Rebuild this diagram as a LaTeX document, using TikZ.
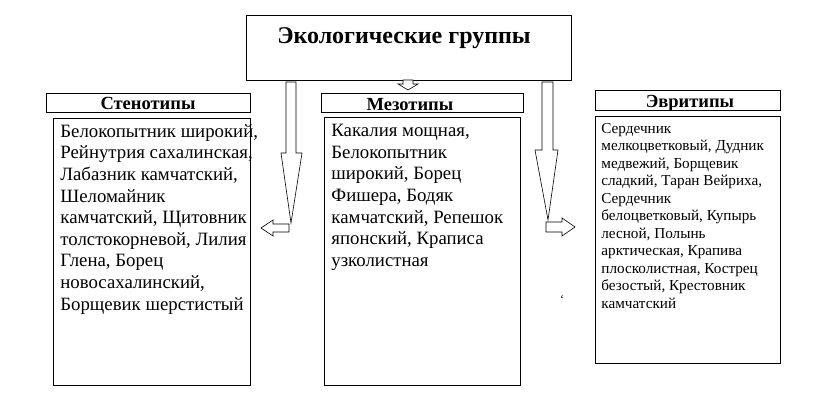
\documentclass[tikz,border=0pt]{standalone}
\usepackage{fontspec}
\setmainfont{Liberation Serif}
\begin{document}
\begin{tikzpicture}[x=1pt,y=-1pt,line width=0.8pt,
  bx/.style={draw,fill=white},
  hd/.style={font=\bfseries\fontsize{18.5}{19}\selectfont,inner sep=0pt},
  tx/.style={anchor=north west,align=left,inner sep=0pt},
  ar/.style={draw,fill=white,line width=0.6pt}]
\useasboundingbox (0,0) rectangle (832,420);
\draw[bx] (246,15) rectangle (571,80);
\node[font=\bfseries\fontsize{24}{26}\selectfont] (title) at (404,38) {Экологические группы};
% headers
\draw[bx] (46,93) rectangle (250,112);
\node[hd] (h1) at (148,103) {Стенотипы};
\draw[bx] (321,93) rectangle (523,112);
\node[hd] (h2) at (410,105) {Мезотипы};
\draw[bx] (595,90) rectangle (780,110);
\node[hd] (h3) at (690,103) {Эвритипы};
% bodies
\draw[bx] (53,118) rectangle (250,385);
\draw[bx] (324,117) rectangle (520,385);
\draw[bx] (595,116) rectangle (780,363);
\node[tx,font=\fontsize{18.8}{21.6}\selectfont] (t1) at (60,124) {Белокопытник широкий,\\Рейнутрия сахалинская,\\Лабазник камчатский,\\Шеломайник\\камчатский, Щитовник\\толстокорневой, Лилия\\Глена, Борец\\новосахалинский,\\Борщевик шерстистый};
\node[tx,font=\fontsize{18.8}{21.6}\selectfont] (t2) at (331,124) {Какалия мощная,\\Белокопытник\\широкий, Борец\\Фишера, Бодяк\\камчатский, Репешок\\японский, Краписа\\узколистная};
\node[tx,font=\fontsize{15.2}{17.5}\selectfont] (t3) at (601,123) {Сердечник\\мелкоцветковый, Дудник\\медвежий, Борщевик\\сладкий, Таран Вейриха,\\Сердечник\\белоцветковый, Купырь\\лесной, Полынь\\арктическая, Крапива\\плосколистная, Кострец\\безостый, Крестовник\\камчатский};
\node[font=\fontsize{12}{12}\selectfont] (dot) at (562,300) {`};
% arrows
\draw[ar] (403,80) -- (413,80) -- (413,84) -- (418,84) -- (408,90) -- (398,84) -- (403,84) -- cycle;
\draw[ar] (286,82) -- (296,82) -- (296,153) -- (302,153) -- (291,223) -- (281,153) -- (286,153) -- cycle;
\draw[ar] (542,82) -- (553,82) -- (553,150) -- (558,150) -- (548,220) -- (535,150) -- (542,150) -- cycle;
\draw[ar] (289,224) -- (273,224) -- (273,220) -- (261,228) -- (273,236) -- (273,232) -- (289,232) -- cycle;
\draw[ar] (546,222) -- (562,222) -- (562,218) -- (575,227) -- (562,236) -- (562,232) -- (546,232) -- cycle;
\end{tikzpicture}
\end{document}
